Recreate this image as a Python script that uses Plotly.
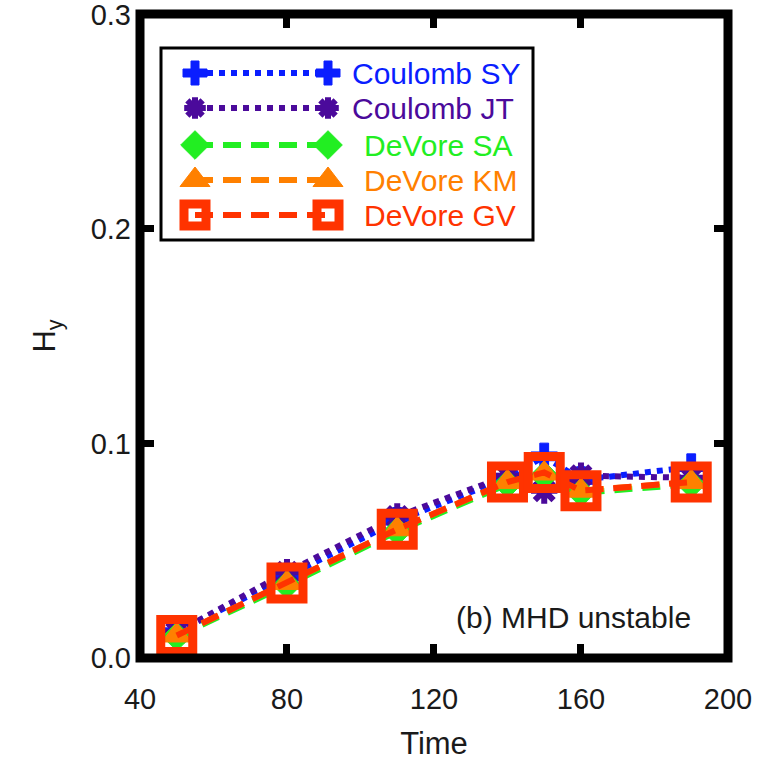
import plotly.graph_objects as go

# ---- data ----
time = [50, 80, 110, 140, 150, 160, 190]
coulomb_sy = [0.012, 0.038, 0.064, 0.084, 0.094, 0.083, 0.089]
coulomb_jt = [0.012, 0.040, 0.066, 0.085, 0.078, 0.085, 0.084]
devore_sa = [0.0100, 0.034, 0.059, 0.081, 0.085, 0.077, 0.081]
devore_km = [0.0105, 0.035, 0.060, 0.082, 0.086, 0.078, 0.082]
devore_gv = [0.0105, 0.035, 0.060, 0.082, 0.0865, 0.078, 0.082]

series_names = ["Coulomb SY", "Coulomb JT", "DeVore SA", "DeVore KM", "DeVore GV"]
series_values = [coulomb_sy, coulomb_jt, devore_sa, devore_km, devore_gv]
x_ticks = [40, 80, 120, 160, 200]
y_ticks = [0.0, 0.1, 0.2, 0.3]
annotation_text = "(b) MHD unstable"

# ---- styles ----
colors = ["#0a1eff", "#4b0a9b", "#22ee22", "#ff8000", "#ff3300"]
dashes = ["dot", "dot", "18px,10px", "18px,10px", "18px,10px"]
symbols = ["cross", "asterisk-open", "diamond", "triangle-up", "square-open"]
data_sizes = [22, 22, 22, 26, 32]
data_lw = [1, 6, 1, 1, 9]
leg_sizes = [20, 18, 22, 26, 22]
leg_lw = [1, 6, 1, 1, 9]

FONT = "Liberation Sans, Arial, sans-serif"
TXT = "#1a1a1a"

fig = go.Figure()

for name, vals, c, d, s, sz, lw in zip(series_names, series_values, colors, dashes,
                                       symbols, data_sizes, data_lw):
    fig.add_trace(go.Scatter(
        x=time, y=vals, name=name, mode="lines+markers",
        line=dict(color=c, width=6, dash=d),
        marker=dict(symbol=s, size=sz, color=c, line=dict(color=c, width=lw)),
        showlegend=False, cliponaxis=True,
    ))

# ---- custom legend (overlay axes in plot-fraction units) ----
L, T, PW, PH = 140, 14, 588, 644
def fx(px):
    return (px - L) / PW
def fy(py):
    return (T + PH - py) / PH

row_y = [73, 108, 145, 180, 215]
text_x = [350, 350, 362, 362, 362]
for i, name in enumerate(series_names):
    yy = fy(row_y[i])
    fig.add_trace(go.Scatter(
        x=[fx(195), fx(328)], y=[yy, yy], mode="lines+markers",
        xaxis="x2", yaxis="y2",
        line=dict(color=colors[i], width=6, dash=dashes[i]),
        marker=dict(symbol=symbols[i], size=leg_sizes[i], color=colors[i],
                    line=dict(color=colors[i], width=leg_lw[i])),
        showlegend=False, hoverinfo="skip", cliponaxis=False,
    ))
    fig.add_annotation(x=fx(text_x[i]), y=yy, xref="x2", yref="y2",
                       text=name, showarrow=False, xanchor="left", yanchor="middle",
                       font=dict(family=FONT, size=30, color=colors[i]))

fig.add_shape(type="rect", xref="paper", yref="paper",
              x0=fx(161), x1=fx(533), y0=fy(240), y1=fy(48),
              line=dict(color="black", width=3), fillcolor="white", layer="below")

# frame
fig.add_shape(type="rect", xref="paper", yref="paper", x0=0, x1=1, y0=0, y1=1,
              line=dict(color="black", width=9), layer="above")

fig.add_annotation(x=fx(693), y=fy(617), xref="paper", yref="paper",
                   text=annotation_text, showarrow=False, xanchor="right", yanchor="middle",
                   font=dict(family=FONT, size=30, color=TXT))

fig.update_layout(
    template="none",
    width=761, height=761,
    margin=dict(l=L, r=761 - L - PW, t=T, b=761 - T - PH, autoexpand=False),
    paper_bgcolor="white", plot_bgcolor="white",
    font=dict(family=FONT, size=29, color=TXT),
    xaxis=dict(range=[40, 200.01], tickvals=x_ticks, ticktext=[str(v) for v in x_ticks],
               ticks="inside", ticklen=14, tickwidth=7, tickcolor="black",
               mirror="ticks", showline=False, showgrid=False, zeroline=False,
               automargin=False, ticklabelstandoff=21, ticklabeloverflow="allow",
               title=dict(text="Time", font=dict(size=31), standoff=20)),
    yaxis=dict(range=[0, 0.3002], tickvals=y_ticks, ticktext=[f"{v:.1f}" for v in y_ticks],
               ticks="inside", ticklen=14, tickwidth=7, tickcolor="black",
               mirror="ticks", showline=False, showgrid=False, zeroline=False,
               automargin=False, ticklabelstandoff=8, ticklabeloverflow="allow",
               title=dict(text="H<sub>y</sub>", font=dict(size=31), standoff=25)),
    xaxis2=dict(range=[0, 1], overlaying="x", visible=False, fixedrange=True),
    yaxis2=dict(range=[0, 1], overlaying="y", visible=False, fixedrange=True),
)

fig.write_html("out.html", config={"displayModeBar": False},
               post_script="document.body.style.margin='0';document.body.style.overflow='hidden';")
